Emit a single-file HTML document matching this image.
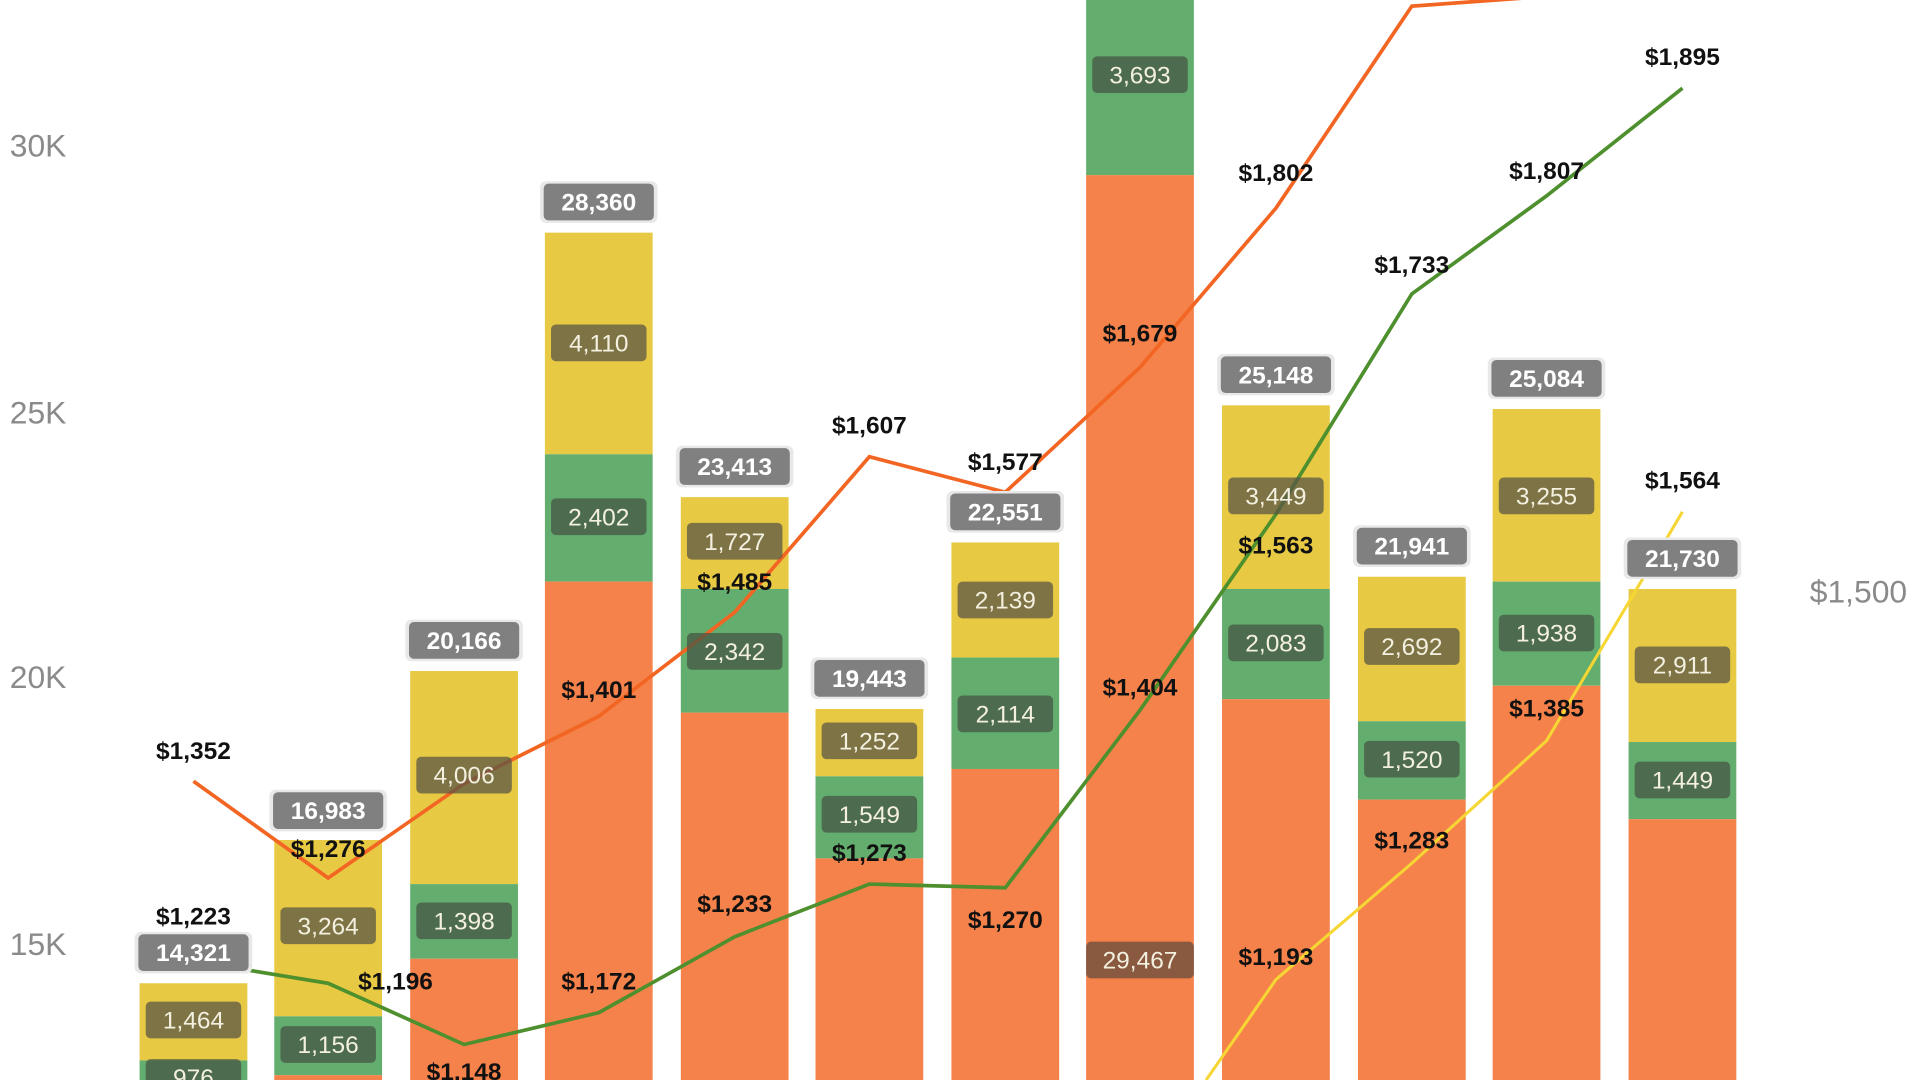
<!DOCTYPE html>
<html><head><meta charset="utf-8"><style>
html,body{margin:0;padding:0;background:#fff;overflow:hidden}
svg{display:block}
text{font-family:"Liberation Sans",sans-serif}
.ax{font-size:26px;fill:#8a8a8a}
.tl{font-size:20px;fill:#fff;text-anchor:middle;font-weight:bold}
.il{font-size:20px;fill:#f4f0e0;text-anchor:middle}
.ll{font-size:20px;fill:#111;text-anchor:middle;font-weight:bold}
.ty{fill:#E8C943}.tg{fill:#63AE6E}.to{fill:#F5824A}
.bo{fill:#e8e8e8}.bt{fill:#808080}.by{fill:rgba(90,85,70,0.75)}.bg{fill:rgba(70,85,70,0.75)}
</style></head><body>
<svg width="1920" height="1080" viewBox="0 0 1568 882" preserveAspectRatio="none" xmlns="http://www.w3.org/2000/svg">
<text class="ax" x="8" y="128">30K</text>
<text class="ax" x="8" y="346">25K</text>
<text class="ax" x="8" y="562">20K</text>
<text class="ax" x="8" y="780">15K</text>
<text class="ax" x="1478" y="492">$1,500</text>

<rect class="ty" x="114" y="803" width="88" height="63"/><rect class="tg" x="114" y="866" width="88" height="30"/>
<rect class="ty" x="224" y="686" width="88" height="144"/><rect class="tg" x="224" y="830" width="88" height="48"/><rect class="to" x="224" y="878" width="88" height="10"/>
<rect class="ty" x="335" y="548" width="88" height="174"/><rect class="tg" x="335" y="722" width="88" height="61"/><rect class="to" x="335" y="783" width="88" height="110"/>
<rect class="ty" x="445" y="190" width="88" height="181"/><rect class="tg" x="445" y="371" width="88" height="104"/><rect class="to" x="445" y="475" width="88" height="420"/>
<rect class="ty" x="556" y="406" width="88" height="75"/><rect class="tg" x="556" y="481" width="88" height="101"/><rect class="to" x="556" y="582" width="88" height="310"/>
<rect class="ty" x="666" y="579" width="88" height="55"/><rect class="tg" x="666" y="634" width="88" height="67"/><rect class="to" x="666" y="701" width="88" height="190"/>
<rect class="ty" x="777" y="443" width="88" height="94"/><rect class="tg" x="777" y="537" width="88" height="91"/><rect class="to" x="777" y="628" width="88" height="260"/>
<rect class="tg" x="887" y="0" width="88" height="143"/><rect class="to" x="887" y="143" width="88" height="750"/>
<rect class="ty" x="998" y="331" width="88" height="150"/><rect class="tg" x="998" y="481" width="88" height="90"/><rect class="to" x="998" y="571" width="88" height="320"/>
<rect class="ty" x="1109" y="471" width="88" height="118"/><rect class="tg" x="1109" y="589" width="88" height="64"/><rect class="to" x="1109" y="653" width="88" height="240"/>
<rect class="ty" x="1219" y="334" width="88" height="141"/><rect class="tg" x="1219" y="475" width="88" height="85"/><rect class="to" x="1219" y="560" width="88" height="330"/>
<rect class="ty" x="1330" y="481" width="88" height="125"/><rect class="tg" x="1330" y="606" width="88" height="63"/><rect class="to" x="1330" y="669" width="88" height="220"/>

<polyline fill="none" stroke="#F26522" stroke-width="3" points="158,638 268,717 379,640 489,585 600,500 710,373 821,402 931,300 1042,170 1153,5 1250,-2"/>
<polyline fill="none" stroke="#4E8F2E" stroke-width="3" points="158,785 268,803 379,853 489,827 600,765 710,722 821,725 931,580 1042,420 1153,240 1263,160 1374,72"/>
<polyline fill="none" stroke="#F5D633" stroke-width="2.5" points="985,882 1042,800 1153,705 1263,605 1374,418"/>

<!-- total labels -->
<g>
<rect class="bo" x="110" y="761" width="96" height="34" rx="5"/><rect class="bt" x="113" y="763" width="90" height="30" rx="4"/><text class="tl" x="158" y="785">14,321</text>
<rect class="bo" x="220" y="645" width="96" height="34" rx="5"/><rect class="bt" x="223" y="647" width="90" height="30" rx="4"/><text class="tl" x="268" y="669">16,983</text>
<rect class="bo" x="331" y="506" width="96" height="34" rx="5"/><rect class="bt" x="334" y="508" width="90" height="30" rx="4"/><text class="tl" x="379" y="530">20,166</text>
<rect class="bo" x="441" y="148" width="96" height="34" rx="5"/><rect class="bt" x="444" y="150" width="90" height="30" rx="4"/><text class="tl" x="489" y="172">28,360</text>
<rect class="bo" x="552" y="364" width="96" height="34" rx="5"/><rect class="bt" x="555" y="366" width="90" height="30" rx="4"/><text class="tl" x="600" y="388">23,413</text>
<rect class="bo" x="662" y="537" width="96" height="34" rx="5"/><rect class="bt" x="665" y="539" width="90" height="30" rx="4"/><text class="tl" x="710" y="561">19,443</text>
<rect class="bo" x="773" y="401" width="96" height="34" rx="5"/><rect class="bt" x="776" y="403" width="90" height="30" rx="4"/><text class="tl" x="821" y="425">22,551</text>
<rect class="bo" x="994" y="289" width="96" height="34" rx="5"/><rect class="bt" x="997" y="291" width="90" height="30" rx="4"/><text class="tl" x="1042" y="313">25,148</text>
<rect class="bo" x="1105" y="429" width="96" height="34" rx="5"/><rect class="bt" x="1108" y="431" width="90" height="30" rx="4"/><text class="tl" x="1153" y="453">21,941</text>
<rect class="bo" x="1215" y="292" width="96" height="34" rx="5"/><rect class="bt" x="1218" y="294" width="90" height="30" rx="4"/><text class="tl" x="1263" y="316">25,084</text>
<rect class="bo" x="1326" y="439" width="96" height="34" rx="5"/><rect class="bt" x="1329" y="441" width="90" height="30" rx="4"/><text class="tl" x="1374" y="463">21,730</text>
</g>
<!-- inner labels -->
<g>
<rect class="by" x="119" y="818" width="78" height="30" rx="4"/><text class="il" x="158" y="840">1,464</text>
<rect class="bg" x="119" y="865" width="78" height="30" rx="4"/><text class="il" x="158" y="887">976</text>
<rect class="by" x="229" y="741" width="78" height="30" rx="4"/><text class="il" x="268" y="763">3,264</text>
<rect class="bg" x="229" y="838" width="78" height="30" rx="4"/><text class="il" x="268" y="860">1,156</text>
<rect class="by" x="340" y="618" width="78" height="30" rx="4"/><text class="il" x="379" y="640">4,006</text>
<rect class="bg" x="340" y="737" width="78" height="30" rx="4"/><text class="il" x="379" y="759">1,398</text>
<rect class="by" x="450" y="265" width="78" height="30" rx="4"/><text class="il" x="489" y="287">4,110</text>
<rect class="bg" x="450" y="407" width="78" height="30" rx="4"/><text class="il" x="489" y="429">2,402</text>
<rect class="by" x="561" y="427" width="78" height="30" rx="4"/><text class="il" x="600" y="449">1,727</text>
<rect class="bg" x="561" y="517" width="78" height="30" rx="4"/><text class="il" x="600" y="539">2,342</text>
<rect class="by" x="671" y="590" width="78" height="30" rx="4"/><text class="il" x="710" y="612">1,252</text>
<rect class="bg" x="671" y="650" width="78" height="30" rx="4"/><text class="il" x="710" y="672">1,549</text>
<rect class="by" x="782" y="475" width="78" height="30" rx="4"/><text class="il" x="821" y="497">2,139</text>
<rect class="bg" x="782" y="568" width="78" height="30" rx="4"/><text class="il" x="821" y="590">2,114</text>
<rect class="bg" x="892" y="46" width="78" height="30" rx="4"/><text class="il" x="931" y="68">3,693</text>
<rect fill="rgba(110,80,60,0.8)" x="887" y="769" width="88" height="30" rx="4"/><text class="il" x="931" y="791">29,467</text>
<rect class="by" x="1003" y="390" width="78" height="30" rx="4"/><text class="il" x="1042" y="412">3,449</text>
<rect class="bg" x="1003" y="510" width="78" height="30" rx="4"/><text class="il" x="1042" y="532">2,083</text>
<rect class="by" x="1114" y="513" width="78" height="30" rx="4"/><text class="il" x="1153" y="535">2,692</text>
<rect class="bg" x="1114" y="605" width="78" height="30" rx="4"/><text class="il" x="1153" y="627">1,520</text>
<rect class="by" x="1224" y="390" width="78" height="30" rx="4"/><text class="il" x="1263" y="412">3,255</text>
<rect class="bg" x="1224" y="502" width="78" height="30" rx="4"/><text class="il" x="1263" y="524">1,938</text>
<rect class="by" x="1335" y="528" width="78" height="30" rx="4"/><text class="il" x="1374" y="550">2,911</text>
<rect class="bg" x="1335" y="622" width="78" height="30" rx="4"/><text class="il" x="1374" y="644">1,449</text>
</g>
<!-- line labels -->
<g>
<text class="ll" x="158" y="620">$1,352</text>
<text class="ll" x="268" y="700">$1,276</text>
<text class="ll" x="489" y="570">$1,401</text>
<text class="ll" x="600" y="482">$1,485</text>
<text class="ll" x="710" y="354">$1,607</text>
<text class="ll" x="821" y="384">$1,577</text>
<text class="ll" x="931" y="279">$1,679</text>
<text class="ll" x="1042" y="148">$1,802</text>
<text class="ll" x="158" y="755">$1,223</text>
<text class="ll" x="323" y="808">$1,196</text>
<text class="ll" x="379" y="882">$1,148</text>
<text class="ll" x="489" y="808">$1,172</text>
<text class="ll" x="600" y="745">$1,233</text>
<text class="ll" x="710" y="703">$1,273</text>
<text class="ll" x="821" y="758">$1,270</text>
<text class="ll" x="931" y="568">$1,404</text>
<text class="ll" x="1042" y="452">$1,563</text>
<text class="ll" x="1153" y="223">$1,733</text>
<text class="ll" x="1263" y="146">$1,807</text>
<text class="ll" x="1374" y="53">$1,895</text>
<text class="ll" x="1042" y="788">$1,193</text>
<text class="ll" x="1153" y="693">$1,283</text>
<text class="ll" x="1263" y="585">$1,385</text>
<text class="ll" x="1374" y="399">$1,564</text>
</g>
</svg>
</body></html>
